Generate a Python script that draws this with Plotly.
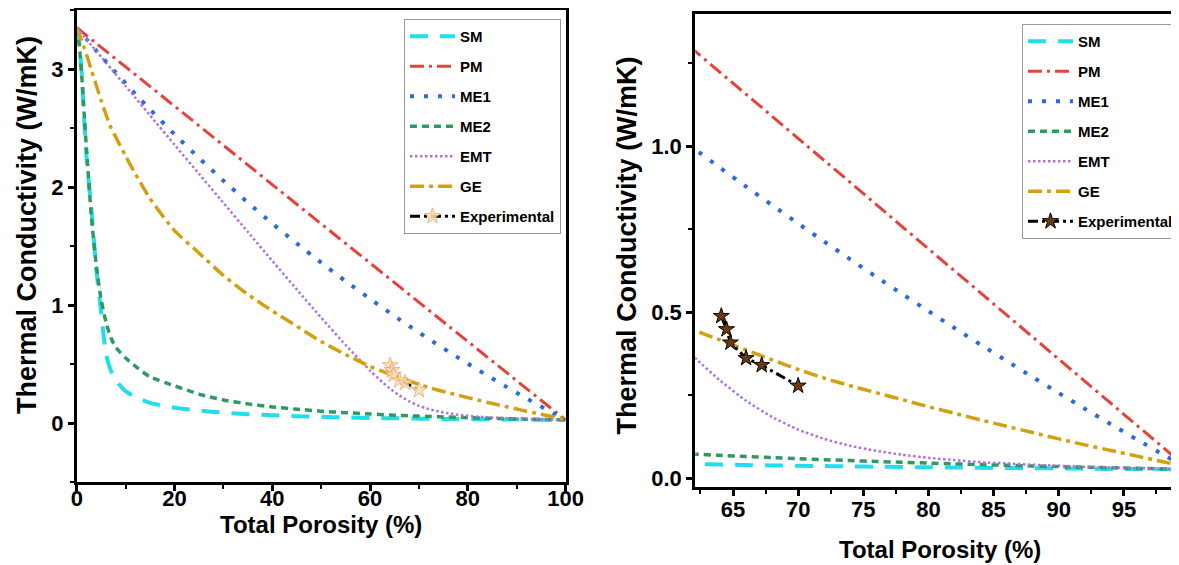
import plotly.graph_objects as go

# ---------------- data ----------------
porosity = [0, 0.5, 1, 1.5, 2, 3, 4, 5, 6, 7, 8, 10, 12, 15, 20, 25, 30, 35, 40, 45, 50, 55, 60,
            62, 64, 66, 68, 70, 72, 74, 76, 78, 80, 82, 84, 86, 88, 90, 92, 94, 96, 98, 100]

sm = [3.35, 3.22, 2.96, 2.58, 2.25, 1.80, 1.30, 0.93, 0.58, 0.44, 0.36, 0.27, 0.22, 0.17,
      0.13, 0.105, 0.088, 0.075, 0.065, 0.058, 0.052, 0.047, 0.043,
      0.042, 0.0405, 0.0392, 0.0381, 0.037, 0.036, 0.035, 0.0341, 0.0333, 0.0324, 0.0317,
      0.0309, 0.0302, 0.0295, 0.0289, 0.0282, 0.0276, 0.0271, 0.0265, 0.026]

pm = [3.35, 3.333, 3.317, 3.30, 3.284, 3.25, 3.217, 3.184, 3.151, 3.117, 3.084, 3.018, 2.951,
      2.851, 2.685, 2.519, 2.353, 2.187, 2.02, 1.854, 1.688, 1.522, 1.356,
      1.289, 1.223, 1.156, 1.09, 1.023, 0.957, 0.89, 0.824, 0.757, 0.691, 0.624, 0.558,
      0.491, 0.425, 0.358, 0.292, 0.225, 0.159, 0.092, 0.026]

me1 = [3.35, 3.325, 3.301, 3.276, 3.252, 3.203, 3.155, 3.108, 3.061, 3.014, 2.968, 2.877,
       2.787, 2.656, 2.446, 2.245, 2.053, 1.868, 1.691, 1.522, 1.359, 1.202, 1.052,
       0.993, 0.935, 0.878, 0.822, 0.767, 0.712, 0.659, 0.606, 0.554, 0.503, 0.452, 0.402,
       0.353, 0.304, 0.256, 0.209, 0.162, 0.116, 0.071, 0.026]

me2 = [3.35, 3.20, 2.95, 2.62, 2.31, 1.74, 1.33, 1.04, 0.85, 0.72, 0.64, 0.55, 0.48, 0.39,
       0.315, 0.245, 0.195, 0.162, 0.136, 0.117, 0.1005, 0.0872, 0.0761,
       0.0721, 0.0683, 0.0648, 0.0615, 0.0583, 0.0554, 0.0526, 0.0499, 0.0474, 0.045, 0.0426,
       0.0405, 0.0384, 0.0364, 0.0344, 0.0326, 0.0309, 0.0292, 0.0276, 0.026]

emt = [3.35, 3.325, 3.30, 3.275, 3.251, 3.201, 3.151, 3.102, 3.052, 3.003, 2.953, 2.854,
       2.755, 2.606, 2.358, 2.111, 1.865, 1.619, 1.374, 1.132, 0.893, 0.661, 0.444,
       0.365, 0.294, 0.233, 0.184, 0.146, 0.118, 0.097, 0.082, 0.070, 0.061, 0.054, 0.048,
       0.044, 0.040, 0.037, 0.034, 0.032, 0.030, 0.028, 0.026]

ge = [3.35, 3.30, 3.24, 3.18, 3.12, 2.99, 2.86, 2.73, 2.61, 2.50, 2.42, 2.26, 2.11, 1.90,
      1.63, 1.44, 1.25, 1.09, 0.95, 0.82, 0.69, 0.58, 0.48,
      0.446, 0.416, 0.386, 0.356, 0.327, 0.301, 0.278, 0.257, 0.236, 0.215, 0.195, 0.175,
      0.156, 0.137, 0.118, 0.100, 0.083, 0.066, 0.049, 0.032]

exp_x = [64.1, 64.5, 64.8, 66.0, 67.2, 70.0]
exp_y = [0.488, 0.448, 0.408, 0.361, 0.340, 0.278]

names = ["SM", "PM", "ME1", "ME2", "EMT", "GE"]
series = [sm, pm, me1, me2, emt, ge]

# ---------------- styles ----------------
colors = ["#22DDEE", "#E8403A", "#2B6BD8", "#2E9A60", "#B070E0", "#D4A010"]
dashes = ["18px,12px", "14px,5px,3px,5px", "4px,10px", "7px,5px", "2.5px,2.5px", "14px,5px,4px,5px"]
widths = [4, 3, 4, 3.5, 2.5, 3.5]

FONT = "Liberation Sans, Arial, sans-serif"
# the page body adds an 8px margin, so the figure is 8px smaller and shifted
OFF = 8
W, H = 1179 - OFF, 565 - OFF


def px(xp):
    return (xp - OFF) / W


def py(yp):
    return 1 - (yp - OFF) / H


fig = go.Figure()

for panel, (xa, ya, leg) in enumerate([("x", "y", "legend"), ("x2", "y2", "legend2")]):
    for i, (nm, vals) in enumerate(zip(names, series)):
        fig.add_trace(go.Scatter(
            x=porosity, y=vals, mode="lines", name=nm,
            line=dict(color=colors[i], dash=dashes[i], width=widths[i],
                      shape="spline" if nm != "PM" else "linear", smoothing=0.6),
            xaxis=xa, yaxis=ya, legend=leg, legendgroup=f"{nm}{panel}",
        ))
    if panel == 0:
        mk = dict(symbol="star", size=12, color="rgba(250,222,180,0.85)",
                  line=dict(color="#E8A868", width=0.8))
    else:
        mk = dict(symbol="star", size=12, color="#6B3A12", line=dict(color="black", width=1))
    fig.add_trace(go.Scatter(
        x=exp_x, y=exp_y, mode="lines+markers", name="Experimental",
        line=dict(color="black", dash="10px,4px,3px,4px", width=3),
        marker=mk, xaxis=xa, yaxis=ya, legend=leg, legendgroup=f"exp{panel}",
    ))

minor_common = dict(ticks="outside", ticklen=4, tickwidth=2, tickcolor="black")
axis_common = dict(
    showline=True, linecolor="black", linewidth=3, mirror=True,
    ticks="outside", ticklen=6, tickwidth=2.5, tickcolor="black",
    showgrid=False, zeroline=False, automargin=False,
    tickfont=dict(family=FONT, size=22, color="black", weight="bold"),
)

legend_common = dict(
    font=dict(family=FONT, size=15, color="black", weight="bold"),
    bgcolor="white", bordercolor="#999999", borderwidth=1,
    tracegroupgap=7.5, itemwidth=45, xanchor="left", yanchor="top",
)

fig.update_layout(
    width=W, height=H, autosize=False,
    margin=dict(l=0, r=0, t=0, b=0),
    paper_bgcolor="white", plot_bgcolor="white",
    font=dict(family=FONT, color="black"),
    xaxis=dict(domain=[px(77), px(567)], range=[0, 100], tick0=0, dtick=20, anchor="y",
               ticklabelstandoff=-11,
               minor=dict(dtick=10, **minor_common), **axis_common),
    yaxis=dict(domain=[py(482), py(10)], range=[-0.5, 3.5], tick0=0, dtick=1, anchor="x",
               minor=dict(dtick=0.5, **minor_common), **axis_common),
    xaxis2=dict(domain=[px(697), 1.0], range=[62.1, 99.0], tick0=0, dtick=5, anchor="y2",
                ticklabelstandoff=-5,
                minor=dict(dtick=2.5, **minor_common), **axis_common),
    yaxis2=dict(domain=[py(487), py(14)], range=[-0.027, 1.398], tick0=0,
                dtick=0.5, tickformat=".1f", anchor="x2",
                minor=dict(dtick=0.25, **minor_common), **axis_common),
    legend=dict(x=px(405), y=py(19), **legend_common),
    legend2=dict(x=px(1025), y=py(24), **legend_common),
)

title_font = dict(family=FONT, size=24, color="black", weight="bold")
ytitle_font = dict(family=FONT, size=27, color="black", weight="bold")
annots = [
    dict(text="Total Porosity (%)", x=px(322), y=py(524), font=title_font, textangle=0),
    dict(text="Total Porosity (%)", x=px(942), y=py(549), font=title_font, textangle=0),
    dict(text="Thermal Conductivity (W/mK)", x=px(27), y=py(225), font=ytitle_font, textangle=-90),
    dict(text="Thermal Conductivity (W/mK)", x=px(629), y=py(245), font=ytitle_font, textangle=-90),
]
for a in annots:
    fig.add_annotation(xref="paper", yref="paper", xanchor="center", yanchor="middle",
                       showarrow=False, **a)

fig.write_html("out.html")
